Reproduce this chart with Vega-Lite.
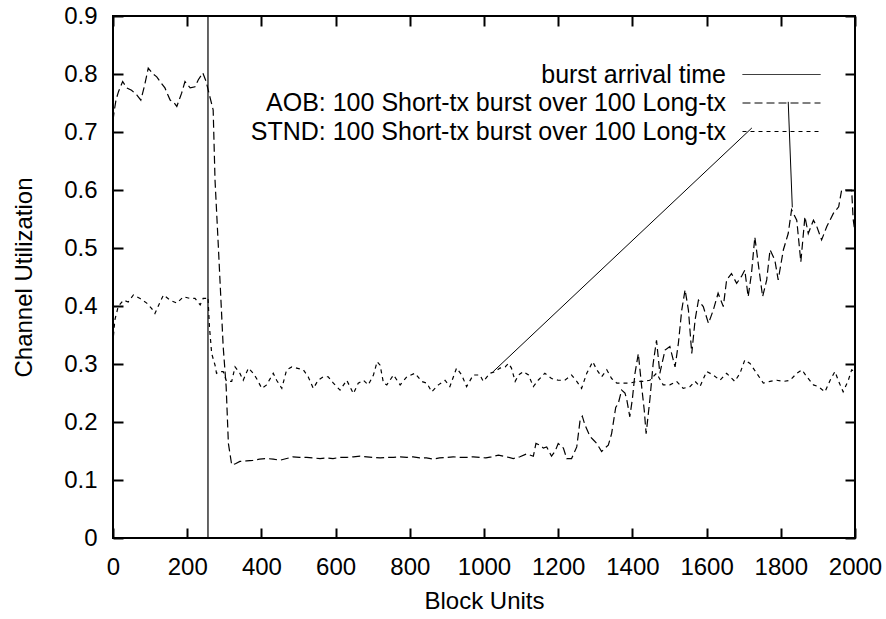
{
"$schema": "https://vega.github.io/schema/vega-lite/v6.json",
"width": 742,
"height": 522,
"autosize": {"type": "none"},
"padding": {"left": 113, "top": 16, "right": 31, "bottom": 81},
"background": "white",
"config": {
  "font": "Liberation Sans",
  "view": {"stroke": "black", "strokeWidth": 2},
  "axis": {"domain": false, "grid": false, "labelFont": "Liberation Sans", "labelFontSize": 24, "labelColor": "black", "titleFont": "Liberation Sans", "titleFontSize": 24, "titleFontWeight": "normal", "titleColor": "black", "labelFlush": false, "labelOverlap": false}
},
"datasets": {
  "lines": [
{"s":"AOB","x":0,"y":0.72},{"s":"AOB","x":3,"y":0.735},{"s":"AOB","x":8,"y":0.755},{"s":"AOB","x":15,"y":0.77},{"s":"AOB","x":26,"y":0.787},{"s":"AOB","x":37,"y":0.776},{"s":"AOB","x":50,"y":0.772},{"s":"AOB","x":64,"y":0.764},{"s":"AOB","x":75,"y":0.755},{"s":"AOB","x":85,"y":0.78},{"s":"AOB","x":95,"y":0.81},{"s":"AOB","x":108,"y":0.8},{"s":"AOB","x":118,"y":0.795},{"s":"AOB","x":127,"y":0.787},{"s":"AOB","x":140,"y":0.776},{"s":"AOB","x":154,"y":0.755},{"s":"AOB","x":165,"y":0.75},{"s":"AOB","x":172,"y":0.744},{"s":"AOB","x":185,"y":0.767},{"s":"AOB","x":194,"y":0.787},{"s":"AOB","x":208,"y":0.776},{"s":"AOB","x":221,"y":0.778},{"s":"AOB","x":230,"y":0.79},{"s":"AOB","x":242,"y":0.802},{"s":"AOB","x":251,"y":0.787},{"s":"AOB","x":261,"y":0.761},{"s":"AOB","x":270,"y":0.738},{"s":"AOB","x":275,"y":0.617},{"s":"AOB","x":284,"y":0.502},{"s":"AOB","x":297,"y":0.33},{"s":"AOB","x":305,"y":0.261},{"s":"AOB","x":311,"y":0.163},{"s":"AOB","x":320,"y":0.126},{"s":"AOB","x":330,"y":0.128},{"s":"AOB","x":342,"y":0.132},{"s":"AOB","x":360,"y":0.133},{"s":"AOB","x":377,"y":0.134},{"s":"AOB","x":395,"y":0.136},{"s":"AOB","x":414,"y":0.137},{"s":"AOB","x":432,"y":0.136},{"s":"AOB","x":450,"y":0.134},{"s":"AOB","x":468,"y":0.137},{"s":"AOB","x":485,"y":0.14},{"s":"AOB","x":503,"y":0.139},{"s":"AOB","x":522,"y":0.139},{"s":"AOB","x":540,"y":0.138},{"s":"AOB","x":558,"y":0.137},{"s":"AOB","x":575,"y":0.138},{"s":"AOB","x":593,"y":0.137},{"s":"AOB","x":612,"y":0.139},{"s":"AOB","x":630,"y":0.139},{"s":"AOB","x":648,"y":0.14},{"s":"AOB","x":666,"y":0.141},{"s":"AOB","x":684,"y":0.14},{"s":"AOB","x":701,"y":0.139},{"s":"AOB","x":720,"y":0.138},{"s":"AOB","x":738,"y":0.139},{"s":"AOB","x":756,"y":0.139},{"s":"AOB","x":774,"y":0.14},{"s":"AOB","x":792,"y":0.139},{"s":"AOB","x":809,"y":0.14},{"s":"AOB","x":827,"y":0.138},{"s":"AOB","x":845,"y":0.138},{"s":"AOB","x":863,"y":0.136},{"s":"AOB","x":880,"y":0.138},{"s":"AOB","x":899,"y":0.139},{"s":"AOB","x":917,"y":0.14},{"s":"AOB","x":935,"y":0.139},{"s":"AOB","x":953,"y":0.139},{"s":"AOB","x":971,"y":0.14},{"s":"AOB","x":990,"y":0.139},{"s":"AOB","x":1005,"y":0.138},{"s":"AOB","x":1020,"y":0.14},{"s":"AOB","x":1039,"y":0.143},{"s":"AOB","x":1060,"y":0.14},{"s":"AOB","x":1079,"y":0.137},{"s":"AOB","x":1097,"y":0.14},{"s":"AOB","x":1115,"y":0.145},{"s":"AOB","x":1133,"y":0.141},{"s":"AOB","x":1140,"y":0.163},{"s":"AOB","x":1151,"y":0.16},{"s":"AOB","x":1160,"y":0.155},{"s":"AOB","x":1169,"y":0.157},{"s":"AOB","x":1182,"y":0.141},{"s":"AOB","x":1192,"y":0.15},{"s":"AOB","x":1200,"y":0.163},{"s":"AOB","x":1214,"y":0.155},{"s":"AOB","x":1223,"y":0.137},{"s":"AOB","x":1236,"y":0.137},{"s":"AOB","x":1250,"y":0.157},{"s":"AOB","x":1259,"y":0.203},{"s":"AOB","x":1265,"y":0.21},{"s":"AOB","x":1272,"y":0.195},{"s":"AOB","x":1286,"y":0.175},{"s":"AOB","x":1295,"y":0.169},{"s":"AOB","x":1304,"y":0.163},{"s":"AOB","x":1317,"y":0.149},{"s":"AOB","x":1326,"y":0.155},{"s":"AOB","x":1335,"y":0.16},{"s":"AOB","x":1344,"y":0.18},{"s":"AOB","x":1355,"y":0.225},{"s":"AOB","x":1362,"y":0.232},{"s":"AOB","x":1371,"y":0.255},{"s":"AOB","x":1380,"y":0.25},{"s":"AOB","x":1385,"y":0.238},{"s":"AOB","x":1393,"y":0.209},{"s":"AOB","x":1400,"y":0.24},{"s":"AOB","x":1407,"y":0.284},{"s":"AOB","x":1416,"y":0.318},{"s":"AOB","x":1425,"y":0.261},{"s":"AOB","x":1432,"y":0.22},{"s":"AOB","x":1437,"y":0.18},{"s":"AOB","x":1447,"y":0.238},{"s":"AOB","x":1456,"y":0.301},{"s":"AOB","x":1465,"y":0.341},{"s":"AOB","x":1474,"y":0.284},{"s":"AOB","x":1488,"y":0.324},{"s":"AOB","x":1501,"y":0.33},{"s":"AOB","x":1515,"y":0.295},{"s":"AOB","x":1524,"y":0.336},{"s":"AOB","x":1533,"y":0.393},{"s":"AOB","x":1542,"y":0.428},{"s":"AOB","x":1551,"y":0.393},{"s":"AOB","x":1560,"y":0.318},{"s":"AOB","x":1569,"y":0.376},{"s":"AOB","x":1578,"y":0.41},{"s":"AOB","x":1591,"y":0.399},{"s":"AOB","x":1605,"y":0.37},{"s":"AOB","x":1618,"y":0.393},{"s":"AOB","x":1631,"y":0.422},{"s":"AOB","x":1645,"y":0.399},{"s":"AOB","x":1654,"y":0.445},{"s":"AOB","x":1667,"y":0.456},{"s":"AOB","x":1681,"y":0.439},{"s":"AOB","x":1694,"y":0.451},{"s":"AOB","x":1703,"y":0.462},{"s":"AOB","x":1712,"y":0.416},{"s":"AOB","x":1721,"y":0.456},{"s":"AOB","x":1730,"y":0.519},{"s":"AOB","x":1739,"y":0.474},{"s":"AOB","x":1751,"y":0.416},{"s":"AOB","x":1762,"y":0.445},{"s":"AOB","x":1771,"y":0.497},{"s":"AOB","x":1784,"y":0.479},{"s":"AOB","x":1793,"y":0.445},{"s":"AOB","x":1807,"y":0.497},{"s":"AOB","x":1820,"y":0.525},{"s":"AOB","x":1829,"y":0.566},{"s":"AOB","x":1843,"y":0.548},{"s":"AOB","x":1854,"y":0.476},{"s":"AOB","x":1865,"y":0.554},{"s":"AOB","x":1874,"y":0.525},{"s":"AOB","x":1888,"y":0.548},{"s":"AOB","x":1897,"y":0.537},{"s":"AOB","x":1910,"y":0.514},{"s":"AOB","x":1924,"y":0.537},{"s":"AOB","x":1942,"y":0.56},{"s":"AOB","x":1956,"y":0.571},{"s":"AOB","x":1964,"y":0.6},{"s":"AOB","x":1991,"y":0.6},{"s":"AOB","x":1995,"y":0.55},{"s":"AOB","x":2000,"y":0.526},
{"s":"STND","x":0,"y":0.335},{"s":"STND","x":1,"y":0.347},{"s":"STND","x":5,"y":0.376},{"s":"STND","x":14,"y":0.399},{"s":"STND","x":28,"y":0.41},{"s":"STND","x":41,"y":0.407},{"s":"STND","x":55,"y":0.419},{"s":"STND","x":73,"y":0.413},{"s":"STND","x":91,"y":0.405},{"s":"STND","x":105,"y":0.395},{"s":"STND","x":113,"y":0.387},{"s":"STND","x":127,"y":0.407},{"s":"STND","x":136,"y":0.419},{"s":"STND","x":154,"y":0.41},{"s":"STND","x":172,"y":0.405},{"s":"STND","x":190,"y":0.416},{"s":"STND","x":208,"y":0.413},{"s":"STND","x":221,"y":0.413},{"s":"STND","x":235,"y":0.402},{"s":"STND","x":243,"y":0.413},{"s":"STND","x":252,"y":0.413},{"s":"STND","x":256,"y":0.415},{"s":"STND","x":260,"y":0.364},{"s":"STND","x":266,"y":0.318},{"s":"STND","x":275,"y":0.298},{"s":"STND","x":279,"y":0.284},{"s":"STND","x":288,"y":0.287},{"s":"STND","x":297,"y":0.287},{"s":"STND","x":306,"y":0.27},{"s":"STND","x":320,"y":0.27},{"s":"STND","x":329,"y":0.295},{"s":"STND","x":342,"y":0.284},{"s":"STND","x":351,"y":0.272},{"s":"STND","x":365,"y":0.293},{"s":"STND","x":378,"y":0.284},{"s":"STND","x":387,"y":0.275},{"s":"STND","x":401,"y":0.258},{"s":"STND","x":414,"y":0.264},{"s":"STND","x":432,"y":0.284},{"s":"STND","x":441,"y":0.272},{"s":"STND","x":455,"y":0.258},{"s":"STND","x":468,"y":0.29},{"s":"STND","x":482,"y":0.295},{"s":"STND","x":495,"y":0.293},{"s":"STND","x":513,"y":0.29},{"s":"STND","x":526,"y":0.278},{"s":"STND","x":540,"y":0.258},{"s":"STND","x":553,"y":0.272},{"s":"STND","x":567,"y":0.278},{"s":"STND","x":580,"y":0.278},{"s":"STND","x":594,"y":0.267},{"s":"STND","x":612,"y":0.255},{"s":"STND","x":630,"y":0.272},{"s":"STND","x":648,"y":0.249},{"s":"STND","x":661,"y":0.267},{"s":"STND","x":675,"y":0.272},{"s":"STND","x":688,"y":0.264},{"s":"STND","x":702,"y":0.281},{"s":"STND","x":712,"y":0.304},{"s":"STND","x":720,"y":0.298},{"s":"STND","x":729,"y":0.267},{"s":"STND","x":738,"y":0.264},{"s":"STND","x":756,"y":0.281},{"s":"STND","x":774,"y":0.264},{"s":"STND","x":792,"y":0.278},{"s":"STND","x":814,"y":0.284},{"s":"STND","x":832,"y":0.27},{"s":"STND","x":846,"y":0.267},{"s":"STND","x":859,"y":0.252},{"s":"STND","x":877,"y":0.264},{"s":"STND","x":895,"y":0.272},{"s":"STND","x":908,"y":0.261},{"s":"STND","x":926,"y":0.293},{"s":"STND","x":940,"y":0.281},{"s":"STND","x":953,"y":0.261},{"s":"STND","x":971,"y":0.281},{"s":"STND","x":989,"y":0.281},{"s":"STND","x":998,"y":0.27},{"s":"STND","x":1016,"y":0.284},{"s":"STND","x":1030,"y":0.287},{"s":"STND","x":1043,"y":0.293},{"s":"STND","x":1057,"y":0.295},{"s":"STND","x":1066,"y":0.301},{"s":"STND","x":1074,"y":0.293},{"s":"STND","x":1084,"y":0.27},{"s":"STND","x":1093,"y":0.281},{"s":"STND","x":1106,"y":0.287},{"s":"STND","x":1120,"y":0.281},{"s":"STND","x":1133,"y":0.261},{"s":"STND","x":1146,"y":0.272},{"s":"STND","x":1164,"y":0.284},{"s":"STND","x":1182,"y":0.275},{"s":"STND","x":1200,"y":0.272},{"s":"STND","x":1218,"y":0.272},{"s":"STND","x":1236,"y":0.281},{"s":"STND","x":1250,"y":0.27},{"s":"STND","x":1263,"y":0.258},{"s":"STND","x":1277,"y":0.284},{"s":"STND","x":1293,"y":0.304},{"s":"STND","x":1304,"y":0.29},{"s":"STND","x":1317,"y":0.278},{"s":"STND","x":1331,"y":0.29},{"s":"STND","x":1344,"y":0.275},{"s":"STND","x":1358,"y":0.267},{"s":"STND","x":1376,"y":0.267},{"s":"STND","x":1394,"y":0.267},{"s":"STND","x":1411,"y":0.27},{"s":"STND","x":1429,"y":0.27},{"s":"STND","x":1447,"y":0.272},{"s":"STND","x":1465,"y":0.284},{"s":"STND","x":1483,"y":0.264},{"s":"STND","x":1501,"y":0.264},{"s":"STND","x":1519,"y":0.27},{"s":"STND","x":1537,"y":0.258},{"s":"STND","x":1555,"y":0.261},{"s":"STND","x":1569,"y":0.27},{"s":"STND","x":1582,"y":0.261},{"s":"STND","x":1600,"y":0.287},{"s":"STND","x":1618,"y":0.281},{"s":"STND","x":1636,"y":0.272},{"s":"STND","x":1654,"y":0.284},{"s":"STND","x":1676,"y":0.27},{"s":"STND","x":1690,"y":0.284},{"s":"STND","x":1703,"y":0.307},{"s":"STND","x":1717,"y":0.301},{"s":"STND","x":1735,"y":0.284},{"s":"STND","x":1753,"y":0.267},{"s":"STND","x":1771,"y":0.27},{"s":"STND","x":1789,"y":0.272},{"s":"STND","x":1807,"y":0.27},{"s":"STND","x":1825,"y":0.272},{"s":"STND","x":1843,"y":0.284},{"s":"STND","x":1857,"y":0.29},{"s":"STND","x":1870,"y":0.278},{"s":"STND","x":1888,"y":0.264},{"s":"STND","x":1901,"y":0.261},{"s":"STND","x":1919,"y":0.252},{"s":"STND","x":1933,"y":0.272},{"s":"STND","x":1946,"y":0.287},{"s":"STND","x":1956,"y":0.27},{"s":"STND","x":1968,"y":0.252},{"s":"STND","x":1982,"y":0.272},{"s":"STND","x":1991,"y":0.29},{"s":"STND","x":2000,"y":0.287}
  ],
  "burst": [{"s": "burst", "x": 256}],
  "links": [
    {"link": "a", "x": 1025, "y": 0.287}, {"link": "a", "x": 1722, "y": 0.707},
    {"link": "b", "x": 1820, "y": 0.752}, {"link": "b", "x": 1831, "y": 0.57}
  ]
},
"resolve": {"axis": {"x": "independent", "y": "independent"}},
"layer": [
  {
    "data": {"name": "lines"},
    "mark": {"type": "line", "color": "black", "strokeWidth": 1.2},
    "encoding": {
      "x": {"field": "x", "type": "quantitative", "scale": {"domain": [0, 2000], "nice": false, "zero": false},
            "axis": {"orient": "bottom", "offset": -10, "ticks": true, "tickSize": 10, "tickWidth": 2, "tickColor": "black", "tickOpacity": 1, "zindex": 1, "values": [0,200,400,600,800,1000,1200,1400,1600,1800,2000], "format": "d", "labelPadding": 17, "title": "Block Units", "titleY": 80, "titleBaseline": "alphabetic"}},
      "y": {"field": "y", "type": "quantitative", "scale": {"domain": [0, 0.9], "nice": false, "zero": false},
            "axis": {"orient": "left", "offset": -10, "ticks": true, "tickSize": 10, "tickWidth": 2, "tickColor": "black", "tickOpacity": 1, "zindex": 1, "values": [0,0.1,0.2,0.3,0.4,0.5,0.6,0.7,0.8,0.9], "format": ".1~f", "labelPadding": 16, "title": "Channel Utilization", "titleX": -92, "titleY": 261, "titleAlign": "center", "titleBaseline": "alphabetic", "titleAngle": -90}},
      "strokeDash": {"field": "s", "type": "nominal",
        "scale": {"domain": ["burst", "AOB", "STND"], "range": [[1, 0], [8, 4], [4, 4]]},
        "legend": {"orient": "none", "legendX": 655, "legendY": 45, "title": null, "padding": 0,
          "symbolType": "M-3,0H3", "symbolSize": 676, "symbolStrokeWidth": 1, "symbolStrokeColor": "black", "symbolFillColor": "transparent",
          "labelAlign": "right", "labelOffset": -69, "labelFontSize": 25, "labelFont": "Liberation Sans", "labelColor": "black", "labelLimit": 0, "rowPadding": 1.5,
          "labelExpr": "datum.value == 'burst' ? 'burst arrival time' : datum.value + ': 100 Short-tx burst over 100 Long-tx'"}}
    }
  },
  {
    "data": {"name": "burst"},
    "mark": {"type": "rule", "color": "black", "strokeWidth": 1.2},
    "encoding": {
      "x": {"field": "x", "type": "quantitative", "axis": null},
      "strokeDash": {"field": "s", "type": "nominal"}
    }
  },
  {
    "data": {"name": "links"},
    "mark": {"type": "line", "color": "black", "strokeWidth": 1},
    "encoding": {
      "x": {"field": "x", "type": "quantitative", "axis": {"orient": "top", "offset": -10, "ticks": true, "tickSize": 10, "tickWidth": 2, "tickColor": "black", "tickOpacity": 1, "zindex": 1, "values": [0,200,400,600,800,1000,1200,1400,1600,1800,2000], "labels": false, "title": null}},
      "y": {"field": "y", "type": "quantitative", "axis": {"orient": "right", "offset": -10, "ticks": true, "tickSize": 10, "tickWidth": 2, "tickColor": "black", "tickOpacity": 1, "zindex": 1, "values": [0,0.1,0.2,0.3,0.4,0.5,0.6,0.7,0.8,0.9], "labels": false, "title": null}},
      "detail": {"field": "link", "type": "nominal"}
    }
  }
]
}
